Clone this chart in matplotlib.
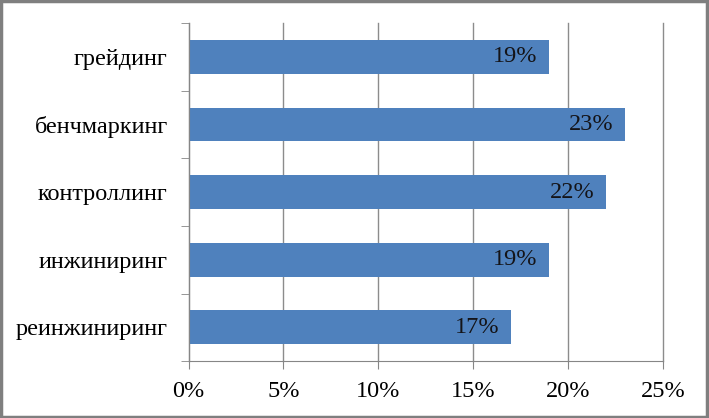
import matplotlib.pyplot as plt
from matplotlib.patches import Rectangle
from matplotlib.ticker import FuncFormatter

categories = ['реинжиниринг', 'инжиниринг', 'контроллинг', 'бенчмаркинг', 'грейдинг']
values = [17, 19, 22, 23, 19]
xticks = [0, 5, 10, 15, 20, 25]

plt.rcParams['font.family'] = ['Liberation Serif', 'DejaVu Serif']

fig = plt.figure(figsize=(7.09, 4.18), dpi=100)
ax = fig.add_axes([0.266, 0.136, 0.669, 0.809])

pos = range(len(categories))
ax.barh(pos, values, height=0.5, color='#4f81bd', zorder=2)
for y, v in zip(pos, values):
    ax.text(v - 0.6, y, f'{v}%', ha='right', va='center', fontsize=17.5, color='#141418', zorder=3)

ax.set_xlim(0, 25)
ax.set_ylim(-0.5, len(categories) - 0.5)
ax.set_xticks(xticks)
ax.xaxis.set_major_formatter(FuncFormatter(lambda x, _: f'{x:.0f}%'))
ax.set_yticks(pos)
ax.set_yticklabels(categories)
ax.set_yticks([p - 0.5 for p in range(len(categories) + 1)], minor=True)
ax.tick_params(axis='y', which='major', length=0, pad=15, labelsize=17.5)
ax.tick_params(axis='y', which='minor', length=6, color='#868686')
ax.tick_params(axis='x', length=6, color='#868686', labelsize=17.5, pad=8)
ax.grid(axis='x', color='#8c8c8c', linewidth=1, zorder=0)
for line in ax.get_xgridlines():
    line.set_clip_on(False)

for side in ['top', 'right']:
    ax.spines[side].set_visible(False)
ax.spines['left'].set_color('#868686')
ax.spines['bottom'].set_color('#868686')

fig.patches.append(Rectangle((0.002, 0.003), 0.995, 0.994, transform=fig.transFigure,
                             fill=False, edgecolor='#7f7f7f', linewidth=2.5))

fig.savefig('out.png', dpi=100)
